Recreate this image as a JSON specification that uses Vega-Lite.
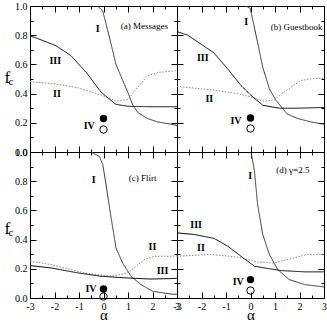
{
"$schema": "https://vega.github.io/schema/vega-lite/v6.json",
"autosize": "pad",
"padding": {"left": 3, "top": 0, "right": 0, "bottom": 0},
"background": "white",
"columns": 2,
"spacing": 0,
"bounds": "flush",
"config": {
  "view": {"stroke": "black", "strokeWidth": 1},
  "axis": {"grid": false, "domain": false, "tickColor": "black", "tickWidth": 1, "labelColor": "black", "titleColor": "black", "labelFont": "Liberation Serif", "titleFont": "Liberation Serif", "labelFontSize": 10, "titleFontWeight": "normal", "labelFlush": false, "labelOverlap": false, "labelBound": false},
  "text": {"font": "Liberation Serif"}
},
"datasets": {
  "curves": [
    {"p":"a","s":"I","a":-0.24,"f":1.0},{"p":"a","s":"I","a":-0.03,"f":0.966},{"p":"a","s":"I","a":0.25,"f":0.78},{"p":"a","s":"I","a":0.51,"f":0.6},{"p":"a","s":"I","a":0.74,"f":0.508},{"p":"a","s":"I","a":0.99,"f":0.41},{"p":"a","s":"I","a":1.2,"f":0.32},{"p":"a","s":"I","a":1.4,"f":0.27},{"p":"a","s":"I","a":1.8,"f":0.229},{"p":"a","s":"I","a":2.21,"f":0.206},{"p":"a","s":"I","a":2.76,"f":0.19},{"p":"a","s":"I","a":3,"f":0.182},
    {"p":"a","s":"II","a":-3,"f":0.483},{"p":"a","s":"II","a":-1.94,"f":0.466},{"p":"a","s":"II","a":-1.05,"f":0.44},{"p":"a","s":"II","a":-0.06,"f":0.388},{"p":"a","s":"II","a":0.51,"f":0.349},{"p":"a","s":"II","a":1.0,"f":0.36},{"p":"a","s":"II","a":1.4,"f":0.444},{"p":"a","s":"II","a":1.8,"f":0.524},{"p":"a","s":"II","a":2.28,"f":0.546},{"p":"a","s":"II","a":2.76,"f":0.553},{"p":"a","s":"II","a":3,"f":0.558},
    {"p":"a","s":"III","a":-3,"f":0.796},{"p":"a","s":"III","a":-2.5,"f":0.765},{"p":"a","s":"III","a":-1.94,"f":0.728},{"p":"a","s":"III","a":-1.33,"f":0.66},{"p":"a","s":"III","a":-0.71,"f":0.546},{"p":"a","s":"III","a":-0.1,"f":0.41},{"p":"a","s":"III","a":0.51,"f":0.326},{"p":"a","s":"III","a":1.0,"f":0.313},{"p":"a","s":"III","a":2,"f":0.31},{"p":"a","s":"III","a":3,"f":0.31},
    {"p":"b","s":"I","a":-0.18,"f":1.0},{"p":"b","s":"I","a":-0.01,"f":0.984},{"p":"b","s":"I","a":0.29,"f":0.75},{"p":"b","s":"I","a":0.5,"f":0.58},{"p":"b","s":"I","a":0.77,"f":0.433},{"p":"b","s":"I","a":1.04,"f":0.354},{"p":"b","s":"I","a":1.3,"f":0.3},{"p":"b","s":"I","a":1.5,"f":0.26},{"p":"b","s":"I","a":1.93,"f":0.229},{"p":"b","s":"I","a":2.47,"f":0.206},{"p":"b","s":"I","a":3,"f":0.19},
    {"p":"b","s":"II","a":-3,"f":0.449},{"p":"b","s":"II","a":-1.61,"f":0.426},{"p":"b","s":"II","a":-0.52,"f":0.4},{"p":"b","s":"II","a":0.02,"f":0.376},{"p":"b","s":"II","a":0.56,"f":0.347},{"p":"b","s":"II","a":0.97,"f":0.358},{"p":"b","s":"II","a":1.45,"f":0.42},{"p":"b","s":"II","a":2.06,"f":0.49},{"p":"b","s":"II","a":2.6,"f":0.505},{"p":"b","s":"II","a":3,"f":0.505},
    {"p":"b","s":"III","a":-3,"f":0.825},{"p":"b","s":"III","a":-2.56,"f":0.8},{"p":"b","s":"III","a":-1.5,"f":0.68},{"p":"b","s":"III","a":-0.93,"f":0.569},{"p":"b","s":"III","a":-0.39,"f":0.456},{"p":"b","s":"III","a":0.02,"f":0.388},{"p":"b","s":"III","a":0.5,"f":0.32},{"p":"b","s":"III","a":1.18,"f":0.3},{"p":"b","s":"III","a":1.93,"f":0.3},{"p":"b","s":"III","a":3,"f":0.305},
    {"p":"c","s":"I","a":-0.51,"f":1.0},{"p":"c","s":"I","a":-0.17,"f":0.97},{"p":"c","s":"I","a":-0.03,"f":0.915},{"p":"c","s":"I","a":0.1,"f":0.78},{"p":"c","s":"I","a":0.31,"f":0.55},{"p":"c","s":"I","a":0.51,"f":0.343},{"p":"c","s":"I","a":0.78,"f":0.24},{"p":"c","s":"I","a":1.12,"f":0.149},{"p":"c","s":"I","a":1.53,"f":0.092},{"p":"c","s":"I","a":2.0,"f":0.046},{"p":"c","s":"I","a":2.76,"f":0.027},{"p":"c","s":"I","a":3,"f":0.025},
    {"p":"c","s":"II","a":-3,"f":0.252},{"p":"c","s":"II","a":-2.14,"f":0.229},{"p":"c","s":"II","a":-0.78,"f":0.172},{"p":"c","s":"II","a":0.31,"f":0.149},{"p":"c","s":"II","a":0.99,"f":0.172},{"p":"c","s":"II","a":1.33,"f":0.218},{"p":"c","s":"II","a":1.67,"f":0.263},{"p":"c","s":"II","a":2.08,"f":0.286},{"p":"c","s":"II","a":2.76,"f":0.286},{"p":"c","s":"II","a":3,"f":0.288},
    {"p":"c","s":"III","a":-3,"f":0.222},{"p":"c","s":"III","a":-2.14,"f":0.206},{"p":"c","s":"III","a":-1.05,"f":0.172},{"p":"c","s":"III","a":-0.1,"f":0.149},{"p":"c","s":"III","a":0.99,"f":0.137},{"p":"c","s":"III","a":1.9,"f":0.13},{"p":"c","s":"III","a":2.76,"f":0.133},{"p":"c","s":"III","a":3,"f":0.135},
    {"p":"d","s":"I","a":0.02,"f":1.0},{"p":"d","s":"I","a":0.16,"f":0.87},{"p":"d","s":"I","a":0.29,"f":0.64},{"p":"d","s":"I","a":0.5,"f":0.435},{"p":"d","s":"I","a":0.77,"f":0.298},{"p":"d","s":"I","a":1.11,"f":0.195},{"p":"d","s":"I","a":1.58,"f":0.126},{"p":"d","s":"I","a":2.2,"f":0.092},{"p":"d","s":"I","a":3,"f":0.076},
    {"p":"d","s":"II","a":-3,"f":0.286},{"p":"d","s":"II","a":-1.61,"f":0.298},{"p":"d","s":"II","a":-0.52,"f":0.28},{"p":"d","s":"II","a":0.29,"f":0.247},{"p":"d","s":"II","a":0.97,"f":0.24},{"p":"d","s":"II","a":1.65,"f":0.27},{"p":"d","s":"II","a":2.33,"f":0.298},{"p":"d","s":"II","a":3,"f":0.3},
    {"p":"d","s":"III","a":-3,"f":0.446},{"p":"d","s":"III","a":-2.29,"f":0.435},{"p":"d","s":"III","a":-1.48,"f":0.408},{"p":"d","s":"III","a":-0.93,"f":0.355},{"p":"d","s":"III","a":-0.39,"f":0.286},{"p":"d","s":"III","a":0.16,"f":0.218},{"p":"d","s":"III","a":0.7,"f":0.202},{"p":"d","s":"III","a":1.25,"f":0.188},{"p":"d","s":"III","a":2.2,"f":0.179},{"p":"d","s":"III","a":3,"f":0.179}
  ],
  "pts": [
    {"p":"a","k":"filled","a":0,"f":0.229},{"p":"a","k":"open","a":0,"f":0.154},
    {"p":"b","k":"filled","a":0,"f":0.233},{"p":"b","k":"open","a":0,"f":0.161},
    {"p":"c","k":"filled","a":0,"f":0.062},{"p":"c","k":"open","a":0,"f":0.01},
    {"p":"d","k":"filled","a":0,"f":0.126},{"p":"d","k":"open","a":0,"f":0.051}
  ],
  "labs": [
    {"p":"a","t":"I","a":-0.24,"f":0.84},{"p":"a","t":"III","a":-1.97,"f":0.626},{"p":"a","t":"II","a":-1.9,"f":0.4},{"p":"a","t":"IV","a":-0.58,"f":0.177},
    {"p":"b","t":"I","a":-0.18,"f":0.887},{"p":"b","t":"III","a":-1.95,"f":0.644},{"p":"b","t":"II","a":-1.68,"f":0.36},{"p":"b","t":"IV","a":-0.59,"f":0.213},
    {"p":"c","t":"I","a":-0.4,"f":0.806},{"p":"c","t":"II","a":2.0,"f":0.348},{"p":"c","t":"III","a":2.41,"f":0.188},{"p":"c","t":"IV","a":-0.51,"f":0.065},
    {"p":"d","t":"I","a":-0.01,"f":0.836},{"p":"d","t":"III","a":-2.22,"f":0.5},{"p":"d","t":"II","a":-2.02,"f":0.345},{"p":"d","t":"IV","a":-0.5,"f":0.11}
  ],
  "titles": [
    {"p":"a","t":"(a) Messages","a":1.67,"f":0.86},
    {"p":"b","t":"(b) Guestbook","a":1.88,"f":0.857},
    {"p":"c","t":"(c) Flirt","a":1.6,"f":0.82},
    {"p":"d","t":"(d) γ=2.5","a":1.73,"f":0.874}
  ]
},
"concat": [
  {
    "width": 147, "height": 146,
    "resolve": {"axis": {"x": "independent", "y": "independent"}},
    "layer": [
      {"data": {"name": "curves"}, "transform": [{"filter": "datum.p === 'a'"}],
       "mark": {"type": "line", "clip": true},
       "encoding": {
         "x": {"field": "a", "type": "quantitative", "scale": {"domain": [-3, 3], "nice": false, "zero": false}, "axis": {"orient": "bottom", "values": [-3,-2,-1,0,1,2,3], "tickSize": -6, "labels": false, "title": null}},
         "y": {"field": "f", "type": "quantitative", "scale": {"domain": [0, 1], "nice": false, "zero": false}, "axis": {"orient": "left", "values": [0,0.2,0.4,0.6,0.8,1], "format": ".1f", "tickSize": -6, "labelPadding": 9, "title": "f", "titleFontSize": 17, "titleAngle": 0, "titleAlign": "left", "titleBaseline": "alphabetic", "titleX": -26, "titleY": 76}},
         "color": {"field": "s", "type": "nominal", "scale": {"domain": ["I","II","III"], "range": ["#333333","#8a8a8a","#000000"]}, "legend": null},
         "strokeWidth": {"field": "s", "type": "nominal", "scale": {"domain": ["I","II","III"], "range": [1,1,2]}, "legend": null},
         "strokeDash": {"field": "s", "type": "nominal", "scale": {"domain": ["I","II","III"], "range": [[1,0],[1.5,1.5],[1,0]]}, "legend": null}
       }},
      {"data": {"name": "pts"}, "transform": [{"filter": "datum.p === 'a' && datum.k === 'filled'"}],
       "mark": {"type": "point", "shape": "circle", "filled": true, "color": "black", "size": 55, "opacity": 1},
       "encoding": {
         "x": {"field": "a", "type": "quantitative", "axis": {"orient": "bottom", "values": [-2.5,-1.5,-0.5,0.5,1.5,2.5], "tickSize": -3, "labels": false, "title": null}},
         "y": {"field": "f", "type": "quantitative", "axis": {"orient": "left", "values": [0.1,0.3,0.5,0.7,0.9], "tickSize": -3, "labels": false, "title": "c", "titleFontSize": 11, "titleAngle": 0, "titleAlign": "left", "titleBaseline": "alphabetic", "titleX": -22, "titleY": 78}}
       }},
      {"data": {"name": "pts"}, "transform": [{"filter": "datum.p === 'a' && datum.k === 'open'"}],
       "mark": {"type": "point", "shape": "circle", "filled": false, "stroke": "black", "strokeWidth": 1, "size": 55, "opacity": 1},
       "encoding": {
         "x": {"field": "a", "type": "quantitative", "axis": {"orient": "top", "values": [-3,-2,-1,0,1,2,3], "tickSize": -6, "labels": false, "title": null}},
         "y": {"field": "f", "type": "quantitative", "axis": {"orient": "right", "values": [0,0.2,0.4,0.6,0.8,1], "tickSize": -6, "labels": false, "title": null}}
       }},
      {"data": {"name": "labs"}, "transform": [{"filter": "datum.p === 'a'"}],
       "mark": {"type": "text", "fontWeight": "bold", "fontSize": 10, "color": "black"},
       "encoding": {
         "x": {"field": "a", "type": "quantitative", "axis": {"orient": "top", "values": [-2.5,-1.5,-0.5,0.5,1.5,2.5], "tickSize": -3, "labels": false, "title": null}},
         "y": {"field": "f", "type": "quantitative", "axis": {"orient": "right", "values": [0.1,0.3,0.5,0.7,0.9], "tickSize": -3, "labels": false, "title": null}},
         "text": {"field": "t"}
       }},
      {"data": {"name": "titles"}, "transform": [{"filter": "datum.p === 'a'"}],
       "mark": {"type": "text", "fontSize": 9, "color": "black"},
       "encoding": {
         "x": {"field": "a", "type": "quantitative", "axis": null},
         "y": {"field": "f", "type": "quantitative", "axis": null},
         "text": {"field": "t"}
       }}
    ]
  },
  {
    "width": 147, "height": 146,
    "resolve": {"axis": {"x": "independent", "y": "independent"}},
    "layer": [
      {"data": {"name": "curves"}, "transform": [{"filter": "datum.p === 'b'"}],
       "mark": {"type": "line", "clip": true},
       "encoding": {
         "x": {"field": "a", "type": "quantitative", "scale": {"domain": [-3, 3], "nice": false, "zero": false}, "axis": {"orient": "bottom", "values": [-3,-2,-1,0,1,2,3], "tickSize": -6, "labels": false, "title": null}},
         "y": {"field": "f", "type": "quantitative", "scale": {"domain": [0, 1], "nice": false, "zero": false}, "axis": {"orient": "left", "values": [0,0.2,0.4,0.6,0.8,1], "tickSize": -6, "labels": false, "title": null}},
         "color": {"field": "s", "type": "nominal", "scale": {"domain": ["I","II","III"], "range": ["#333333","#8a8a8a","#000000"]}, "legend": null},
         "strokeWidth": {"field": "s", "type": "nominal", "scale": {"domain": ["I","II","III"], "range": [1,1,2]}, "legend": null},
         "strokeDash": {"field": "s", "type": "nominal", "scale": {"domain": ["I","II","III"], "range": [[1,0],[1.5,1.5],[1,0]]}, "legend": null}
       }},
      {"data": {"name": "pts"}, "transform": [{"filter": "datum.p === 'b' && datum.k === 'filled'"}],
       "mark": {"type": "point", "shape": "circle", "filled": true, "color": "black", "size": 55, "opacity": 1},
       "encoding": {
         "x": {"field": "a", "type": "quantitative", "axis": {"orient": "bottom", "values": [-2.5,-1.5,-0.5,0.5,1.5,2.5], "tickSize": -3, "labels": false, "title": null}},
         "y": {"field": "f", "type": "quantitative", "axis": {"orient": "left", "values": [0.1,0.3,0.5,0.7,0.9], "tickSize": -3, "labels": false, "title": null}}
       }},
      {"data": {"name": "pts"}, "transform": [{"filter": "datum.p === 'b' && datum.k === 'open'"}],
       "mark": {"type": "point", "shape": "circle", "filled": false, "stroke": "black", "strokeWidth": 1, "size": 55, "opacity": 1},
       "encoding": {
         "x": {"field": "a", "type": "quantitative", "axis": {"orient": "top", "values": [-3,-2,-1,0,1,2,3], "tickSize": -6, "labels": false, "title": null}},
         "y": {"field": "f", "type": "quantitative", "axis": {"orient": "right", "values": [0,0.2,0.4,0.6,0.8,1], "tickSize": -6, "labels": false, "title": null}}
       }},
      {"data": {"name": "labs"}, "transform": [{"filter": "datum.p === 'b'"}],
       "mark": {"type": "text", "fontWeight": "bold", "fontSize": 10, "color": "black"},
       "encoding": {
         "x": {"field": "a", "type": "quantitative", "axis": {"orient": "top", "values": [-2.5,-1.5,-0.5,0.5,1.5,2.5], "tickSize": -3, "labels": false, "title": null}},
         "y": {"field": "f", "type": "quantitative", "axis": {"orient": "right", "values": [0.1,0.3,0.5,0.7,0.9], "tickSize": -3, "labels": false, "title": null}},
         "text": {"field": "t"}
       }},
      {"data": {"name": "titles"}, "transform": [{"filter": "datum.p === 'b'"}],
       "mark": {"type": "text", "fontSize": 9, "color": "black"},
       "encoding": {
         "x": {"field": "a", "type": "quantitative", "axis": null},
         "y": {"field": "f", "type": "quantitative", "axis": null},
         "text": {"field": "t"}
       }}
    ]
  },
  {
    "width": 147, "height": 146,
    "resolve": {"axis": {"x": "independent", "y": "independent"}},
    "layer": [
      {"data": {"name": "curves"}, "transform": [{"filter": "datum.p === 'c'"}],
       "mark": {"type": "line", "clip": true},
       "encoding": {
         "x": {"field": "a", "type": "quantitative", "scale": {"domain": [-3, 3], "nice": false, "zero": false}, "axis": {"orient": "bottom", "values": [-3,-2,-1,0,1,2,3], "tickSize": -6, "labels": true, "labelPadding": 9, "labelExpr": "replace(datum.label, '\u2212', '-')", "title": "α", "titleFontSize": 15, "titleBaseline": "alphabetic", "titleY": 21}},
         "y": {"field": "f", "type": "quantitative", "scale": {"domain": [0, 1], "nice": false, "zero": false}, "axis": {"orient": "left", "values": [0,0.2,0.4,0.6,0.8,1], "format": ".1f", "tickSize": -6, "labelPadding": 9, "title": "f", "titleFontSize": 17, "titleAngle": 0, "titleAlign": "left", "titleBaseline": "alphabetic", "titleX": -26, "titleY": 81}},
         "color": {"field": "s", "type": "nominal", "scale": {"domain": ["I","II","III"], "range": ["#333333","#8a8a8a","#000000"]}, "legend": null},
         "strokeWidth": {"field": "s", "type": "nominal", "scale": {"domain": ["I","II","III"], "range": [1,1,2]}, "legend": null},
         "strokeDash": {"field": "s", "type": "nominal", "scale": {"domain": ["I","II","III"], "range": [[1,0],[1.5,1.5],[1,0]]}, "legend": null}
       }},
      {"data": {"name": "pts"}, "transform": [{"filter": "datum.p === 'c' && datum.k === 'filled'"}],
       "mark": {"type": "point", "shape": "circle", "filled": true, "color": "black", "size": 55, "opacity": 1},
       "encoding": {
         "x": {"field": "a", "type": "quantitative", "axis": {"orient": "bottom", "values": [-2.5,-1.5,-0.5,0.5,1.5,2.5], "tickSize": -3, "labels": false, "title": null}},
         "y": {"field": "f", "type": "quantitative", "axis": {"orient": "left", "values": [0.1,0.3,0.5,0.7,0.9], "tickSize": -3, "labels": false, "title": "c", "titleFontSize": 11, "titleAngle": 0, "titleAlign": "left", "titleBaseline": "alphabetic", "titleX": -22, "titleY": 83}}
       }},
      {"data": {"name": "pts"}, "transform": [{"filter": "datum.p === 'c' && datum.k === 'open'"}],
       "mark": {"type": "point", "shape": "circle", "filled": false, "stroke": "black", "strokeWidth": 1, "size": 55, "opacity": 1},
       "encoding": {
         "x": {"field": "a", "type": "quantitative", "axis": {"orient": "top", "values": [-3,-2,-1,0,1,2,3], "tickSize": -6, "labels": false, "title": null}},
         "y": {"field": "f", "type": "quantitative", "axis": {"orient": "right", "values": [0,0.2,0.4,0.6,0.8,1], "tickSize": -6, "labels": false, "title": null}}
       }},
      {"data": {"name": "labs"}, "transform": [{"filter": "datum.p === 'c'"}],
       "mark": {"type": "text", "fontWeight": "bold", "fontSize": 10, "color": "black"},
       "encoding": {
         "x": {"field": "a", "type": "quantitative", "axis": {"orient": "top", "values": [-2.5,-1.5,-0.5,0.5,1.5,2.5], "tickSize": -3, "labels": false, "title": null}},
         "y": {"field": "f", "type": "quantitative", "axis": {"orient": "right", "values": [0.1,0.3,0.5,0.7,0.9], "tickSize": -3, "labels": false, "title": null}},
         "text": {"field": "t"}
       }},
      {"data": {"name": "titles"}, "transform": [{"filter": "datum.p === 'c'"}],
       "mark": {"type": "text", "fontSize": 9, "color": "black"},
       "encoding": {
         "x": {"field": "a", "type": "quantitative", "axis": null},
         "y": {"field": "f", "type": "quantitative", "axis": null},
         "text": {"field": "t"}
       }}
    ]
  },
  {
    "width": 147, "height": 146,
    "resolve": {"axis": {"x": "independent", "y": "independent"}},
    "layer": [
      {"data": {"name": "curves"}, "transform": [{"filter": "datum.p === 'd'"}],
       "mark": {"type": "line", "clip": true},
       "encoding": {
         "x": {"field": "a", "type": "quantitative", "scale": {"domain": [-3, 3], "nice": false, "zero": false}, "axis": {"orient": "bottom", "values": [-3,-2,-1,0,1,2,3], "tickSize": -6, "labels": true, "labelPadding": 9, "labelExpr": "replace(datum.label, '\u2212', '-')", "title": "α", "titleFontSize": 15, "titleBaseline": "alphabetic", "titleY": 21}},
         "y": {"field": "f", "type": "quantitative", "scale": {"domain": [0, 1], "nice": false, "zero": false}, "axis": {"orient": "left", "values": [0,0.2,0.4,0.6,0.8,1], "tickSize": -6, "labels": false, "title": null}},
         "color": {"field": "s", "type": "nominal", "scale": {"domain": ["I","II","III"], "range": ["#333333","#8a8a8a","#000000"]}, "legend": null},
         "strokeWidth": {"field": "s", "type": "nominal", "scale": {"domain": ["I","II","III"], "range": [1,1,2]}, "legend": null},
         "strokeDash": {"field": "s", "type": "nominal", "scale": {"domain": ["I","II","III"], "range": [[1,0],[1.5,1.5],[1,0]]}, "legend": null}
       }},
      {"data": {"name": "pts"}, "transform": [{"filter": "datum.p === 'd' && datum.k === 'filled'"}],
       "mark": {"type": "point", "shape": "circle", "filled": true, "color": "black", "size": 55, "opacity": 1},
       "encoding": {
         "x": {"field": "a", "type": "quantitative", "axis": {"orient": "bottom", "values": [-2.5,-1.5,-0.5,0.5,1.5,2.5], "tickSize": -3, "labels": false, "title": null}},
         "y": {"field": "f", "type": "quantitative", "axis": {"orient": "left", "values": [0.1,0.3,0.5,0.7,0.9], "tickSize": -3, "labels": false, "title": null}}
       }},
      {"data": {"name": "pts"}, "transform": [{"filter": "datum.p === 'd' && datum.k === 'open'"}],
       "mark": {"type": "point", "shape": "circle", "filled": false, "stroke": "black", "strokeWidth": 1, "size": 55, "opacity": 1},
       "encoding": {
         "x": {"field": "a", "type": "quantitative", "axis": {"orient": "top", "values": [-3,-2,-1,0,1,2,3], "tickSize": -6, "labels": false, "title": null}},
         "y": {"field": "f", "type": "quantitative", "axis": {"orient": "right", "values": [0,0.2,0.4,0.6,0.8,1], "tickSize": -6, "labels": false, "title": null}}
       }},
      {"data": {"name": "labs"}, "transform": [{"filter": "datum.p === 'd'"}],
       "mark": {"type": "text", "fontWeight": "bold", "fontSize": 10, "color": "black"},
       "encoding": {
         "x": {"field": "a", "type": "quantitative", "axis": {"orient": "top", "values": [-2.5,-1.5,-0.5,0.5,1.5,2.5], "tickSize": -3, "labels": false, "title": null}},
         "y": {"field": "f", "type": "quantitative", "axis": {"orient": "right", "values": [0.1,0.3,0.5,0.7,0.9], "tickSize": -3, "labels": false, "title": null}},
         "text": {"field": "t"}
       }},
      {"data": {"name": "titles"}, "transform": [{"filter": "datum.p === 'd'"}],
       "mark": {"type": "text", "fontSize": 9, "color": "black"},
       "encoding": {
         "x": {"field": "a", "type": "quantitative", "axis": null},
         "y": {"field": "f", "type": "quantitative", "axis": null},
         "text": {"field": "t"}
       }}
    ]
  }
]
}
